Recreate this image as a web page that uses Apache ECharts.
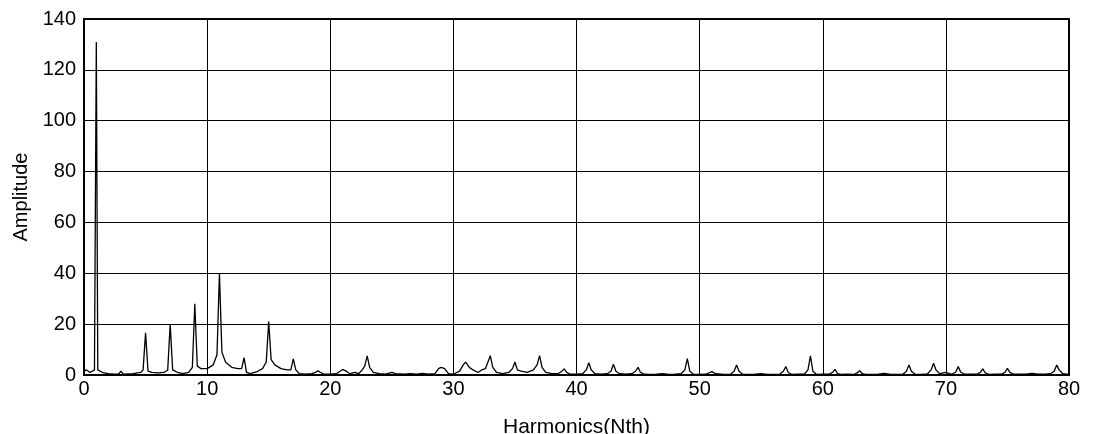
<!DOCTYPE html>
<html>
<head>
<meta charset="utf-8">
<script src="https://cdn.jsdelivr.net/npm/echarts@6/dist/echarts.min.js"></script>
<style>
  html, body { margin: 0; padding: 0; background: #fff; }
  #chart { width: 1098px; height: 434px; }
</style>
</head>
<body>
<div id="chart"></div>
<script>
// Harmonic spectrum: harmonic order (Nth) and amplitude at each sample
const harmonic = [
  0, 0.2, 0.5, 0.85, 1, 1.12, 1.3, 1.6, 2, 2.5, 2.8, 3, 3.2, 4, 4.6, 4.8, 5, 5.2, 5.5, 6, 6.5, 6.8, 7, 7.2, 7.6, 8, 8.5, 8.8, 9, 9.2, 9.5, 10, 10.5, 10.8, 11, 11.2, 11.5, 12, 12.5, 12.8, 13, 13.2, 13.5, 14, 14.5, 14.8, 15, 15.2, 15.5, 16, 16.5, 16.8, 17, 17.2, 17.5, 18, 18.5, 18.8, 19, 19.2, 19.5,
  20, 20.5, 20.8, 21, 21.3, 21.6, 22, 22.3, 22.6, 22.8, 23, 23.2, 23.5, 24, 24.5, 25, 25.3, 26, 26.5, 27, 27.5, 28, 28.5, 28.8, 29, 29.3, 29.6,
  30, 30.5, 30.8, 31, 31.3, 31.6, 32, 32.3, 32.6, 32.8, 33, 33.2, 33.5, 34, 34.5, 34.8, 35, 35.2, 35.5, 36, 36.5, 36.8, 37, 37.2, 37.5, 38, 38.5, 38.8, 39, 39.2, 39.5,
  40, 40.5, 40.8, 41, 41.2, 41.5, 42, 42.5, 42.8, 43, 43.2, 43.5, 44, 44.5, 44.8, 45, 45.2, 45.5, 46, 46.5, 47, 47.5, 48, 48.5, 48.8, 49, 49.2, 49.5,
  50, 50.5, 51, 51.3, 52, 52.5, 52.8, 53, 53.2, 53.5, 54, 54.5, 55, 55.5, 56, 56.5, 56.8, 57, 57.2, 57.5, 58, 58.5, 58.8, 59, 59.2, 59.5,
  60, 60.5, 60.8, 61, 61.2, 61.5, 62, 62.5, 62.8, 63, 63.2, 63.5, 64, 64.5, 65, 65.5, 66, 66.5, 66.8, 67, 67.2, 67.5, 68, 68.5, 68.8, 69, 69.2, 69.5,
  70, 70.3, 70.5, 70.8, 71, 71.2, 71.5, 72, 72.5, 72.8, 73, 73.2, 73.5, 74, 74.5, 74.8, 75, 75.2, 75.5, 76, 76.5, 77, 77.5, 78, 78.5, 78.8, 79, 79.2, 79.5, 79.8, 80
];
const amplitude = [
  1.5, 2, 1, 2, 131, 2, 1.5, 0.8, 0.5, 0.3, 0.3, 1.5, 0.3, 0.5, 1, 2, 16.6, 1.5, 1, 0.8, 1, 2, 20, 2, 1, 0.5, 1, 3, 28, 3.5, 2.5, 2.5, 4, 8, 40, 9, 5, 3, 2.5, 2.5, 6.8, 1, 0.5, 1.2, 2.5, 5, 21, 6, 4, 2.5, 2, 2, 6.3, 2, 0.5, 0.3, 0.5, 1, 1.7, 1, 0.3,
  0.3, 0.5, 1.5, 2.2, 1.5, 0.5, 1, 0.5, 2, 3.5, 7.5, 3, 1, 0.5, 0.3, 1, 0.5, 0.3, 0.5, 0.3, 0.6, 0.3, 0.5, 2.5, 3, 2.5, 0.5,
  0.3, 1.5, 4, 5.1, 3, 2, 1, 2, 2.5, 5, 7.6, 3, 1, 0.5, 1, 2.5, 5.1, 2, 1.5, 1, 2, 4, 7.6, 3, 1, 0.5, 0.5, 1.5, 2.4, 1, 0.3,
  0.3, 0.5, 2, 4.8, 2, 0.5, 0.3, 0.5, 1.5, 4.2, 1.5, 0.5, 0.3, 0.5, 1.5, 3, 1, 0.3, 0.2, 0.3, 0.5, 0.2, 0.3, 0.5, 2, 6.4, 1.5, 0.3,
  0.2, 0.3, 1.3, 0.5, 0.2, 0.3, 1.5, 3.9, 1.5, 0.3, 0.2, 0.3, 0.5, 0.2, 0.2, 0.3, 1.5, 3.3, 1, 0.2, 0.3, 0.3, 2, 7.5, 1.5, 0.2,
  0.3, 0.3, 1, 2.2, 0.5, 0.2, 0.3, 0.2, 0.8, 1.7, 0.5, 0.2, 0.2, 0.3, 0.6, 0.2, 0.2, 0.3, 1.5, 3.9, 1.5, 0.3, 0.2, 0.4, 2, 4.6, 2, 0.5,
  1, 0.5, 0.3, 1.2, 3.3, 1.2, 0.3, 0.3, 0.3, 1, 2.4, 0.8, 0.2, 0.3, 0.3, 1, 2.6, 1, 0.3, 0.3, 0.3, 0.6, 0.3, 0.3, 0.5, 1.5, 3.9, 2, 0.5, 0.3, 0.3
];
const xTicks = [0, 10, 20, 30, 40, 50, 60, 70, 80];
const yTicks = [0, 20, 40, 60, 80, 100, 120, 140];

const points = harmonic.map((h, i) => [h, amplitude[i]]);
const fontFamily = 'Liberation Sans, Arial, sans-serif';

const chart = echarts.init(document.getElementById('chart'), null, { renderer: 'canvas' });
chart.setOption({
  backgroundColor: '#fff',
  animation: false,
  grid: {
    left: 84, right: 29, top: 19, bottom: 59,
    containLabel: false, outerBoundsMode: 'none',
    show: true, borderColor: '#000', borderWidth: 2, backgroundColor: 'transparent'
  },
  xAxis: {
    type: 'value',
    min: xTicks[0], max: xTicks[xTicks.length - 1], interval: 10,
    name: 'Harmonics(Nth)', nameLocation: 'middle', nameGap: 42,
    nameTextStyle: { color: '#000', fontSize: 21, fontFamily },
    axisLine: { show: true, lineStyle: { color: '#000', width: 2 } },
    axisTick: { show: false },
    axisLabel: { color: '#000', fontSize: 20, fontFamily, margin: 4 },
    splitLine: { show: true, lineStyle: { color: '#000', width: 1 } }
  },
  yAxis: {
    type: 'value',
    min: yTicks[0], max: yTicks[yTicks.length - 1], interval: 20,
    name: 'Amplitude', nameLocation: 'middle', nameGap: 51,
    nameTextStyle: { color: '#000', fontSize: 20, fontFamily },
    axisLine: { show: true, lineStyle: { color: '#000', width: 2 } },
    axisTick: { show: false },
    axisLabel: { color: '#000', fontSize: 20, fontFamily, margin: 8 },
    splitLine: { show: true, lineStyle: { color: '#000', width: 1 } }
  },
  series: [{
    type: 'line',
    data: points,
    symbol: 'none',
    smooth: false,
    lineStyle: { color: '#000', width: 1.3 }
  }]
});
</script>
</body>
</html>
